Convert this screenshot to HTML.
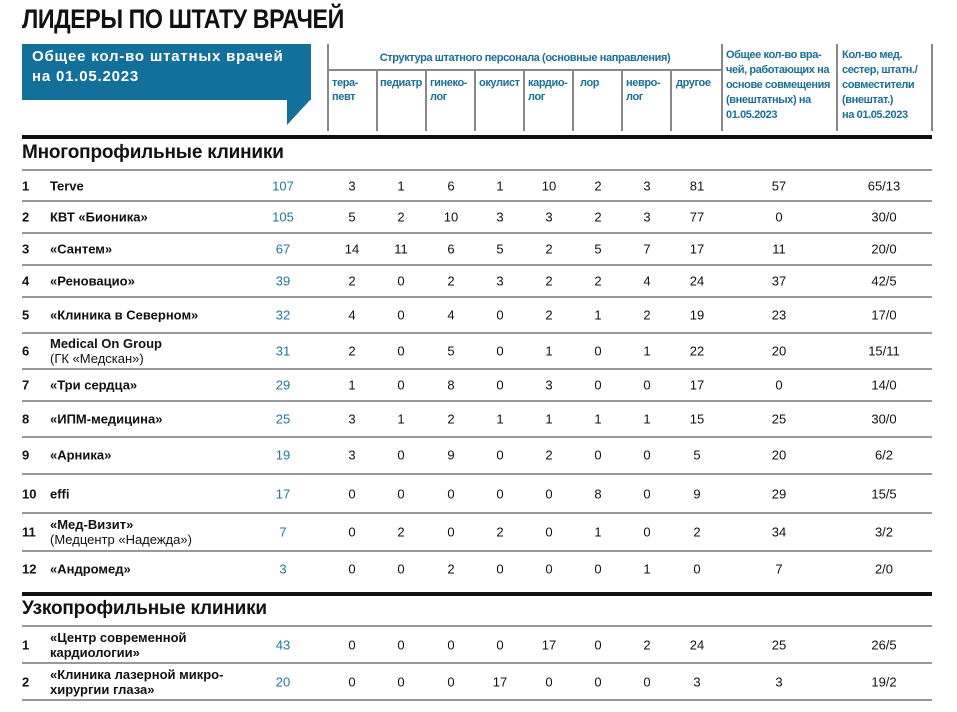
<!DOCTYPE html>
<html><head><meta charset="utf-8"><style>
*{margin:0;padding:0;box-sizing:border-box}
body{width:957px;height:712px;background:#fff;position:relative;overflow:hidden;font-family:"Liberation Sans","DejaVu Sans",sans-serif;color:#111}
.a{position:absolute}
.t{left:22px;top:4px;font-size:27px;font-weight:bold;white-space:nowrap;transform:scaleX(0.86);transform-origin:left top;letter-spacing:-0.5px}
.box{left:22px;top:44px;width:289px;height:56px;background:#13709a}
.btxt{left:32px;top:47px;color:#fff;font-size:15px;font-weight:bold;letter-spacing:0.8px;line-height:20px;white-space:nowrap}
.vl{position:absolute;top:44px;height:87px;width:2px;background:#888}
.hd{position:absolute;color:#1a6f96;font-size:11px;font-weight:bold;line-height:14px;white-space:nowrap;letter-spacing:-0.4px}
.hl{position:absolute;left:22px;width:910px;height:2px;background:#999}
.thick{position:absolute;left:22px;width:910px;height:4px;background:#111}
.sec{position:absolute;left:22px;font-size:19px;font-weight:bold;white-space:nowrap;letter-spacing:-0.2px}
.r{position:absolute;left:0;width:957px}
.r span{position:absolute;top:50%;transform:translateY(-50%);font-size:13px;white-space:nowrap;line-height:15px}
.n{left:22px;font-weight:bold}
.nm{left:50px;font-weight:bold}
.nm i{font-style:normal;font-weight:normal}
.c{width:40px;margin-left:-20px;text-align:center}
.bl{color:#2377a3}
</style></head><body>
<div class="a t">ЛИДЕРЫ ПО ШТАТУ ВРАЧЕЙ</div>
<div class="a box"></div>
<svg class="a" style="left:0;top:0" width="957" height="140"><polygon points="287,99 311,99 287,125" fill="#13709a"/></svg>
<div class="a btxt">Общее кол-во штатных врачей<br>на 01.05.2023</div>

<div class="vl" style="left:327px"></div>
<div class="vl" style="left:376px;top:70px;height:61px"></div>
<div class="vl" style="left:425px;top:70px;height:61px"></div>
<div class="vl" style="left:474px;top:70px;height:61px"></div>
<div class="vl" style="left:523px;top:70px;height:61px"></div>
<div class="vl" style="left:572px;top:70px;height:61px"></div>
<div class="vl" style="left:621px;top:70px;height:61px"></div>
<div class="vl" style="left:670px;top:70px;height:61px"></div>
<div class="vl" style="left:721px"></div>
<div class="vl" style="left:836px"></div>
<div class="vl" style="left:931px"></div>
<div class="a" style="left:328px;top:69px;width:394px;height:2px;background:#888"></div>
<div class="hd" style="left:328px;width:394px;text-align:center;top:51px">Структура штатного персонала (основные направления)</div>
<div class="hd" style="left:332px;top:76px">тера-<br>певт</div>
<div class="hd" style="left:380px;top:76px">педиатр</div>
<div class="hd" style="left:430px;top:76px">гинеко-<br>лог</div>
<div class="hd" style="left:479px;top:76px">окулист</div>
<div class="hd" style="left:528px;top:76px">кардио-<br>лог</div>
<div class="hd" style="left:580px;top:76px">лор</div>
<div class="hd" style="left:626px;top:76px">невро-<br>лог</div>
<div class="hd" style="left:676px;top:76px">другое</div>
<div class="hd" style="left:726px;top:48px;line-height:15px">Общее кол-во вра-<br>чей, работающих на<br>основе совмещения<br>(внештатных) на<br>01.05.2023</div>
<div class="hd" style="left:842px;top:48px;line-height:15px">Кол-во мед.<br>сестер, штатн./<br>совместители<br>(внештат.)<br>на 01.05.2023</div>

<div class="thick" style="top:135px"></div>
<div class="sec" style="top:142px">Многопрофильные клиники</div>
<div class="hl" style="top:169px"></div>

<div class="r" style="top:170px;height:31px"><span class="n">1</span><span class="nm">Terve</span><span class="c bl" style="left:283px">107</span><span class="c" style="left:352px">3</span><span class="c" style="left:401px">1</span><span class="c" style="left:451px">6</span><span class="c" style="left:500px">1</span><span class="c" style="left:549px">10</span><span class="c" style="left:598px">2</span><span class="c" style="left:647px">3</span><span class="c" style="left:697px">81</span><span class="c" style="left:779px">57</span><span class="c" style="left:884px">65/13</span></div>
<div class="hl" style="top:200px"></div>
<div class="r" style="top:201px;height:32px"><span class="n">2</span><span class="nm">КВТ «Бионика»</span><span class="c bl" style="left:283px">105</span><span class="c" style="left:352px">5</span><span class="c" style="left:401px">2</span><span class="c" style="left:451px">10</span><span class="c" style="left:500px">3</span><span class="c" style="left:549px">3</span><span class="c" style="left:598px">2</span><span class="c" style="left:647px">3</span><span class="c" style="left:697px">77</span><span class="c" style="left:779px">0</span><span class="c" style="left:884px">30/0</span></div>
<div class="hl" style="top:232px"></div>
<div class="r" style="top:233px;height:32px"><span class="n">3</span><span class="nm">«Сантем»</span><span class="c bl" style="left:283px">67</span><span class="c" style="left:352px">14</span><span class="c" style="left:401px">11</span><span class="c" style="left:451px">6</span><span class="c" style="left:500px">5</span><span class="c" style="left:549px">2</span><span class="c" style="left:598px">5</span><span class="c" style="left:647px">7</span><span class="c" style="left:697px">17</span><span class="c" style="left:779px">11</span><span class="c" style="left:884px">20/0</span></div>
<div class="hl" style="top:264px"></div>
<div class="r" style="top:265px;height:32px"><span class="n">4</span><span class="nm">«Реновацио»</span><span class="c bl" style="left:283px">39</span><span class="c" style="left:352px">2</span><span class="c" style="left:401px">0</span><span class="c" style="left:451px">2</span><span class="c" style="left:500px">3</span><span class="c" style="left:549px">2</span><span class="c" style="left:598px">2</span><span class="c" style="left:647px">4</span><span class="c" style="left:697px">24</span><span class="c" style="left:779px">37</span><span class="c" style="left:884px">42/5</span></div>
<div class="hl" style="top:296px"></div>
<div class="r" style="top:297px;height:36px"><span class="n">5</span><span class="nm">«Клиника в Северном»</span><span class="c bl" style="left:283px">32</span><span class="c" style="left:352px">4</span><span class="c" style="left:401px">0</span><span class="c" style="left:451px">4</span><span class="c" style="left:500px">0</span><span class="c" style="left:549px">2</span><span class="c" style="left:598px">1</span><span class="c" style="left:647px">2</span><span class="c" style="left:697px">19</span><span class="c" style="left:779px">23</span><span class="c" style="left:884px">17/0</span></div>
<div class="hl" style="top:332px"></div>
<div class="r" style="top:333px;height:36px"><span class="n">6</span><span class="nm">Medical On Group<br><i>(ГК «Медскан»)</i></span><span class="c bl" style="left:283px">31</span><span class="c" style="left:352px">2</span><span class="c" style="left:401px">0</span><span class="c" style="left:451px">5</span><span class="c" style="left:500px">0</span><span class="c" style="left:549px">1</span><span class="c" style="left:598px">0</span><span class="c" style="left:647px">1</span><span class="c" style="left:697px">22</span><span class="c" style="left:779px">20</span><span class="c" style="left:884px">15/11</span></div>
<div class="hl" style="top:368px"></div>
<div class="r" style="top:369px;height:32px"><span class="n">7</span><span class="nm">«Три сердца»</span><span class="c bl" style="left:283px">29</span><span class="c" style="left:352px">1</span><span class="c" style="left:401px">0</span><span class="c" style="left:451px">8</span><span class="c" style="left:500px">0</span><span class="c" style="left:549px">3</span><span class="c" style="left:598px">0</span><span class="c" style="left:647px">0</span><span class="c" style="left:697px">17</span><span class="c" style="left:779px">0</span><span class="c" style="left:884px">14/0</span></div>
<div class="hl" style="top:400px"></div>
<div class="r" style="top:401px;height:36px"><span class="n">8</span><span class="nm">«ИПМ-медицина»</span><span class="c bl" style="left:283px">25</span><span class="c" style="left:352px">3</span><span class="c" style="left:401px">1</span><span class="c" style="left:451px">2</span><span class="c" style="left:500px">1</span><span class="c" style="left:549px">1</span><span class="c" style="left:598px">1</span><span class="c" style="left:647px">1</span><span class="c" style="left:697px">15</span><span class="c" style="left:779px">25</span><span class="c" style="left:884px">30/0</span></div>
<div class="hl" style="top:436px"></div>
<div class="r" style="top:437px;height:36px"><span class="n">9</span><span class="nm">«Арника»</span><span class="c bl" style="left:283px">19</span><span class="c" style="left:352px">3</span><span class="c" style="left:401px">0</span><span class="c" style="left:451px">9</span><span class="c" style="left:500px">0</span><span class="c" style="left:549px">2</span><span class="c" style="left:598px">0</span><span class="c" style="left:647px">0</span><span class="c" style="left:697px">5</span><span class="c" style="left:779px">20</span><span class="c" style="left:884px">6/2</span></div>
<div class="hl" style="top:473px"></div>
<div class="r" style="top:474px;height:39px"><span class="n">10</span><span class="nm">effi</span><span class="c bl" style="left:283px">17</span><span class="c" style="left:352px">0</span><span class="c" style="left:401px">0</span><span class="c" style="left:451px">0</span><span class="c" style="left:500px">0</span><span class="c" style="left:549px">0</span><span class="c" style="left:598px">8</span><span class="c" style="left:647px">0</span><span class="c" style="left:697px">9</span><span class="c" style="left:779px">29</span><span class="c" style="left:884px">15/5</span></div>
<div class="hl" style="top:512px"></div>
<div class="r" style="top:513px;height:38px"><span class="n">11</span><span class="nm">«Мед-Визит»<br><i>(Медцентр «Надежда»)</i></span><span class="c bl" style="left:283px">7</span><span class="c" style="left:352px">0</span><span class="c" style="left:401px">2</span><span class="c" style="left:451px">0</span><span class="c" style="left:500px">2</span><span class="c" style="left:549px">0</span><span class="c" style="left:598px">1</span><span class="c" style="left:647px">0</span><span class="c" style="left:697px">2</span><span class="c" style="left:779px">34</span><span class="c" style="left:884px">3/2</span></div>
<div class="hl" style="top:550px"></div>
<div class="r" style="top:551px;height:36px"><span class="n">12</span><span class="nm">«Андромед»</span><span class="c bl" style="left:283px">3</span><span class="c" style="left:352px">0</span><span class="c" style="left:401px">0</span><span class="c" style="left:451px">2</span><span class="c" style="left:500px">0</span><span class="c" style="left:549px">0</span><span class="c" style="left:598px">0</span><span class="c" style="left:647px">1</span><span class="c" style="left:697px">0</span><span class="c" style="left:779px">7</span><span class="c" style="left:884px">2/0</span></div>

<div class="thick" style="top:592px"></div>
<div class="sec" style="top:598px">Узкопрофильные клиники</div>
<div class="hl" style="top:625px"></div>
<div class="r" style="top:626px;height:37px"><span class="n">1</span><span class="nm">«Центр современной<br>кардиологии»</span><span class="c bl" style="left:283px">43</span><span class="c" style="left:352px">0</span><span class="c" style="left:401px">0</span><span class="c" style="left:451px">0</span><span class="c" style="left:500px">0</span><span class="c" style="left:549px">17</span><span class="c" style="left:598px">0</span><span class="c" style="left:647px">2</span><span class="c" style="left:697px">24</span><span class="c" style="left:779px">25</span><span class="c" style="left:884px">26/5</span></div>
<div class="hl" style="top:662px"></div>
<div class="r" style="top:663px;height:37px"><span class="n">2</span><span class="nm">«Клиника лазерной микро-<br>хирургии глаза»</span><span class="c bl" style="left:283px">20</span><span class="c" style="left:352px">0</span><span class="c" style="left:401px">0</span><span class="c" style="left:451px">0</span><span class="c" style="left:500px">17</span><span class="c" style="left:549px">0</span><span class="c" style="left:598px">0</span><span class="c" style="left:647px">0</span><span class="c" style="left:697px">3</span><span class="c" style="left:779px">3</span><span class="c" style="left:884px">19/2</span></div>
<div class="hl" style="top:699px"></div>
</body></html>
